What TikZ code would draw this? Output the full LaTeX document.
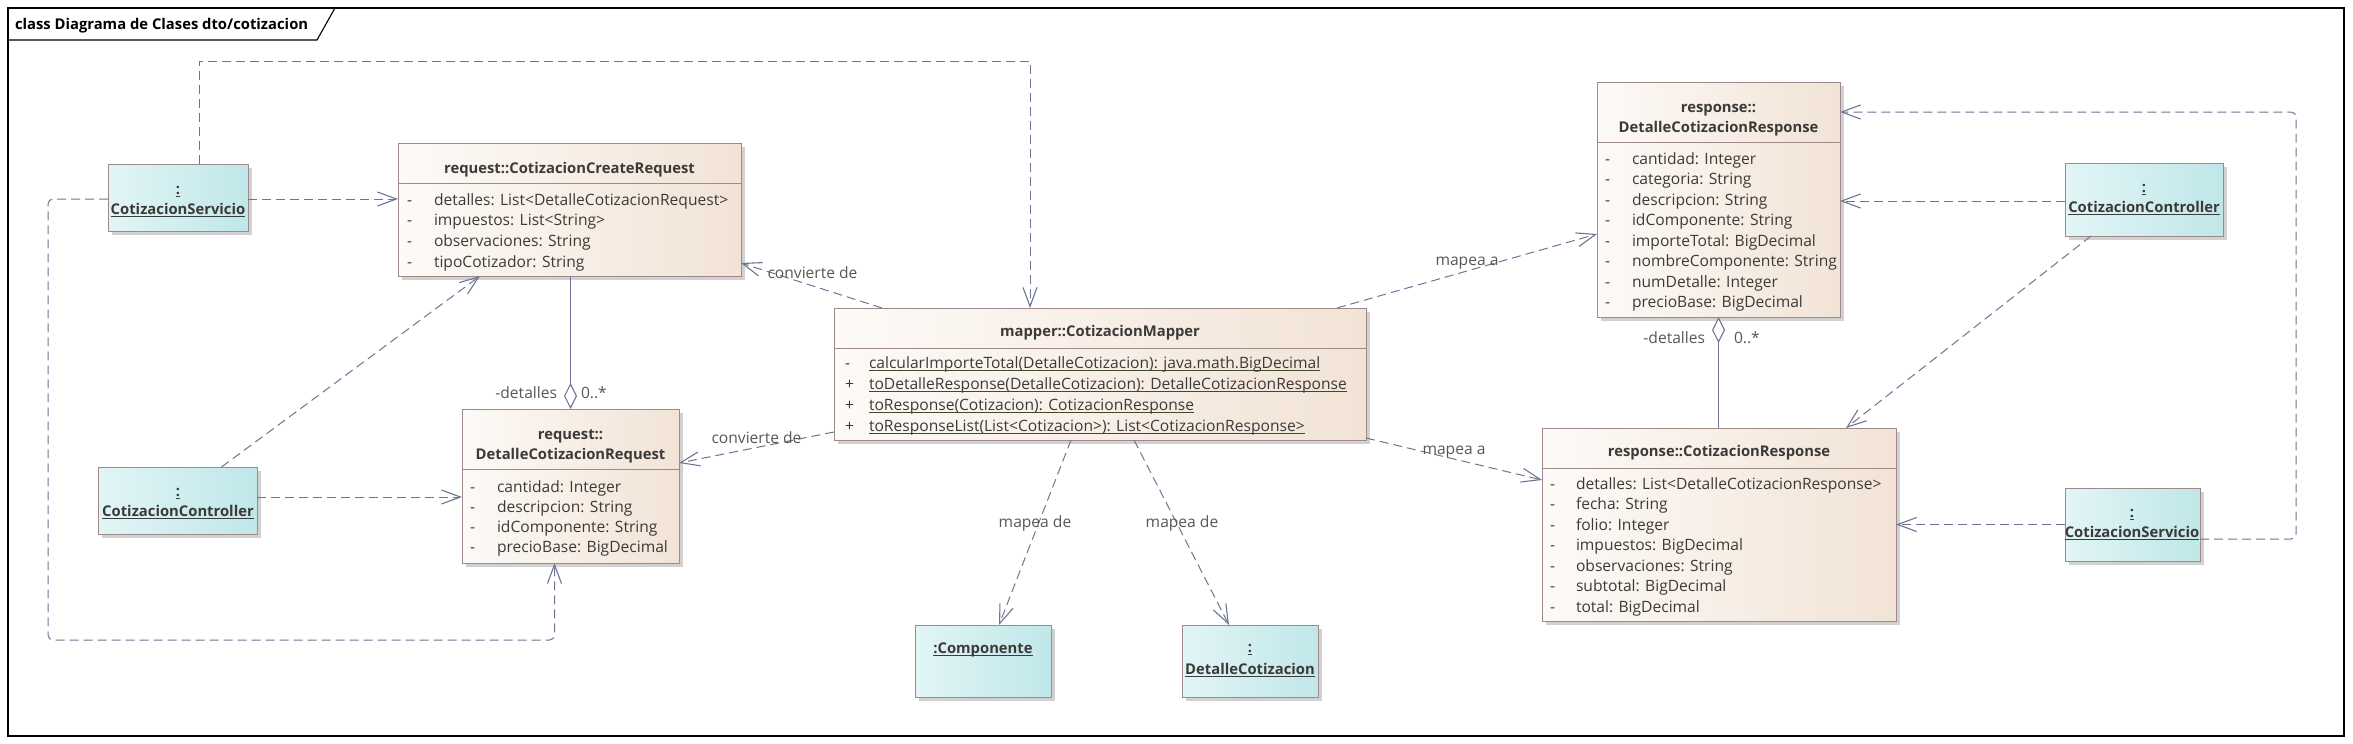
\documentclass[tikz,border=0pt]{standalone}
\usepackage{fontspec}
\setmainfont{Open Sans}
\usetikzlibrary{arrows.meta,shadows}
\definecolor{conn}{HTML}{6E7594}
\definecolor{bord}{HTML}{9E8A88}
\definecolor{txtc}{HTML}{3C3A38}
\definecolor{clsL}{HTML}{FDFAF7}
\definecolor{clsR}{HTML}{F2E3D6}
\definecolor{objL}{HTML}{E2F5F6}
\definecolor{objR}{HTML}{C0E7E9}
\definecolor{ulgreen}{HTML}{3E4A2E}
\definecolor{ulgray}{HTML}{3C3C3C}
\newcommand\fs{\fontsize{15.6}{18}\selectfont}
\newcommand\fb{\fontsize{14.8}{18}\selectfont\bfseries}
\newcommand\ulx[2]{\setbox0\hbox{#2}\leavevmode\rlap{\textcolor{#1}{\rule[-3pt]{\wd0}{1.1pt}}}\box0}
\tikzset{
  every node/.style={inner sep=0pt, outer sep=0pt},
  box/.style={draw=bord, line width=1pt, anchor=north west,
    drop shadow={shadow xshift=4pt, shadow yshift=-4pt, fill=black!18, opacity=1}},
  cls/.style={box, left color=clsL, right color=clsR},
  obj/.style={box, left color=objL, right color=objR},
  attr/.style={font=\fs, text=txtc, anchor=base west},
  ttl/.style={font=\fb, text=txtc, anchor=base},
  lbl/.style={font=\fs, text=txtc!85, anchor=base},
  dep/.style={draw=conn, line width=1pt, dash pattern=on 9pt off 5pt,
    -{Straight Barb[length=19pt,width=14pt,line width=1.1pt]}},
  agg/.style={draw=conn, line width=1pt,
    {Diamond[open,length=26pt,width=13pt,fill=white,line width=1.1pt]}-},
  sep/.style={draw=bord, line width=1pt}
}
\newcommand\attrrows[6]{%
  \foreach \s [count=\i] in {#6} {
    \node[attr] (#1d\i) at (#2,{#4+#5*(\i-1)}) {-};
    \node[attr] (#1t\i) at (#3,{#4+#5*(\i-1)}) {\s};
  }}
\begin{document}
\begin{tikzpicture}[x=1pt,y=-1pt]
\useasboundingbox (0,0) rectangle (2353,744);
\fill[white] (0,0) rectangle (2353,744);
% frame
\draw[line width=1.3pt] (8,8) rectangle (2344,736);
\draw[line width=1.1pt] (8,40) -- (317,40) -- (335,8);
\node[anchor=base west, font=\fb] (title) at (15,29) {class Diagrama de Clases dto/cotizacion};

% ---- boxes
\node[obj, minimum width=140pt, minimum height=67pt] (srvL) at (108,164) {};
\node[obj, minimum width=159pt, minimum height=67pt] (ctlL) at (98,467) {};
\node[cls, minimum width=343pt, minimum height=133pt] (cr) at (398,143) {};
\node[cls, minimum width=217pt, minimum height=154pt] (dreq) at (462,409) {};
\node[cls, minimum width=532pt, minimum height=132pt] (map) at (834,308) {};
\node[obj, minimum width=136pt, minimum height=72pt] (comp) at (915,625) {};
\node[obj, minimum width=136pt, minimum height=72pt] (det) at (1182,625) {};
\node[cls, minimum width=243pt, minimum height=235pt] (dresp) at (1597,82) {};
\node[cls, minimum width=354pt, minimum height=193pt] (resp) at (1542,428) {};
\node[obj, minimum width=158pt, minimum height=73pt] (ctlR) at (2065,163) {};
\node[obj, minimum width=135pt, minimum height=73pt] (srvR) at (2065,488) {};

% separators
\draw[sep] ([yshift=-40pt]cr.north west) -- ([yshift=-40pt]cr.north east);
\draw[sep] ([yshift=-60pt]dreq.north west) -- ([yshift=-60pt]dreq.north east);
\draw[sep] ([yshift=-40pt]map.north west) -- ([yshift=-40pt]map.north east);
\draw[sep] ([yshift=-60pt]dresp.north west) -- ([yshift=-60pt]dresp.north east);
\draw[sep] ([yshift=-40pt]resp.north west) -- ([yshift=-40pt]resp.north east);

% class titles
\node[ttl] (crn) at (569.5,173) {request::CotizacionCreateRequest};
\node[ttl] (dreqn1) at (570.5,439) {request::};
\node[ttl] (dreqn2) at (570.5,459) {DetalleCotizacionRequest};
\node[ttl] (mapn) at (1100,336) {mapper::CotizacionMapper};
\node[ttl] (drespn1) at (1718.5,112) {response::};
\node[ttl] (drespn2) at (1718.5,132) {DetalleCotizacionResponse};
\node[ttl] (respn) at (1719,456) {response::CotizacionResponse};

% attributes
\attrrows{cr}{407}{434}{205}{20.67}{detalles: List<DetalleCotizacionRequest>,impuestos: List<String>,observaciones: String,tipoCotizador: String}
\attrrows{dreq}{470}{497}{492}{20.33}{cantidad: Integer,descripcion: String,idComponente: String,precioBase: BigDecimal}
\attrrows{dresp}{1605}{1632}{164}{20.57}{cantidad: Integer,categoria: String,descripcion: String,idComponente: String,importeTotal: BigDecimal,nombreComponente: String,numDetalle: Integer,precioBase: BigDecimal}
\attrrows{resp}{1550}{1576}{489}{20.5}{detalles: List<DetalleCotizacionResponse>,fecha: String,folio: Integer,impuestos: BigDecimal,observaciones: String,subtotal: BigDecimal,total: BigDecimal}

% methods
\node[attr] (mapv1) at (845,368) {-};
\node[attr] (mapv2) at (845,389) {+};
\node[attr] (mapv3) at (845,410) {+};
\node[attr] (mapv4) at (845,431) {+};
\node[attr] (mapm1) at (869,368) {\ulx{ulgreen}{calcularImporteTotal(DetalleCotizacion): java.math.BigDecimal}};
\node[attr] (mapm2) at (869,389) {\ulx{ulgreen}{toDetalleResponse(DetalleCotizacion): DetalleCotizacionResponse}};
\node[attr] (mapm3) at (869,410) {\ulx{ulgreen}{toResponse(Cotizacion): CotizacionResponse}};
\node[attr] (mapm4) at (869,431) {\ulx{ulgreen}{toResponseList(List<Cotizacion>): List<CotizacionResponse>}};

% object texts
\node[ttl] (srvLa) at (178,194) {\ulx{ulgray}{:}};
\node[ttl] (srvLb) at (178,214) {\ulx{ulgray}{CotizacionServicio}};
\node[ttl] (ctlLa) at (178,496) {\ulx{ulgray}{:}};
\node[ttl] (ctlLb) at (178,516) {\ulx{ulgray}{CotizacionController}};
\node[ttl] (ctlRa) at (2144,192) {\ulx{ulgray}{:}};
\node[ttl] (ctlRb) at (2144,212) {\ulx{ulgray}{CotizacionController}};
\node[ttl] (srvRa) at (2132,517) {\ulx{ulgray}{:}};
\node[ttl] (srvRb) at (2132,537) {\ulx{ulgray}{CotizacionServicio}};
\node[ttl] (compa) at (983,653) {\ulx{ulgray}{:Componente}};
\node[ttl] (deta) at (1250,652) {\ulx{ulgray}{:}};
\node[ttl] (detb) at (1250,674) {\ulx{ulgray}{DetalleCotizacion}};

% ---- connectors
\draw[dep] ([xshift=21pt]srvL.north) -- ++(0,-103) -| ([xshift=-70pt]map.north);
\draw[dep] ([yshift=-1.5pt]srvL.east) -- ([yshift=-1.5pt]srvL.east -| cr.west);
\draw[dep, rounded corners=5pt] ([yshift=-1.5pt]srvL.west) -- ++(-60,0) -- ++(0,441) -| ([xshift=-16pt]dreq.south);
\draw[dep] ([xshift=44pt]ctlL.north) -- ([xshift=-89.5pt]cr.south);
\draw[dep] ([yshift=3.5pt]ctlL.east) -- ([yshift=3.5pt]ctlL.east -| dreq.west);
\draw[agg] (dreq.north) -- (dreq.north |- cr.south);
\node[lbl, anchor=base east] (aggl1) at (557,398) {-detalles};
\node[lbl, anchor=base west] (aggl2) at (581,398) {0..*};

\draw[dep] ([xshift=48pt]map.north west) -- ([yshift=13pt]cr.south east);
\node[lbl] (cv1) at (812.5,278) {convierte de};
\draw[dep] ([yshift=8pt]map.south west) -- ([yshift=23pt]dreq.east);
\node[lbl] (cv2) at (756.5,443) {convierte de};

\draw[dep] ([xshift=-29pt]map.north east) -- ([yshift=-34.5pt]dresp.west);
\node[lbl] (ma1) at (1467,265) {mapea a};
\draw[dep] ([yshift=2pt]map.south east) -- ([yshift=44.5pt]resp.west);
\node[lbl] (ma2) at (1454,454) {mapea a};

\draw[dep] ([xshift=-29pt]map.south) -- ([xshift=16pt]comp.north);
\node[lbl] (md1) at (1035,527) {mapea de};
\draw[dep] ([xshift=34pt]map.south) -- ([xshift=-21pt]det.north);
\node[lbl] (md2) at (1182,527) {mapea de};

\draw[dep] ([yshift=-1.5pt]ctlR.west) -- ([yshift=-1.5pt]ctlR.west -| dresp.east);
\draw[dep] ([xshift=-53pt]ctlR.south) -- ([xshift=127pt]resp.north);
\draw[dep] (srvR.west) -- (srvR.west -| resp.east);
\draw[dep, rounded corners=5pt] ([yshift=-14.5pt]srvR.east) -- ++(96,0) |- ([yshift=87.5pt]dresp.east);

\draw[agg] (dresp.south) -- (dresp.south |- resp.north);
\node[lbl, anchor=base east] (aggr1) at (1705,343) {-detalles};
\node[lbl, anchor=base west] (aggr2) at (1734,343) {0..*};
\end{tikzpicture}
\end{document}
